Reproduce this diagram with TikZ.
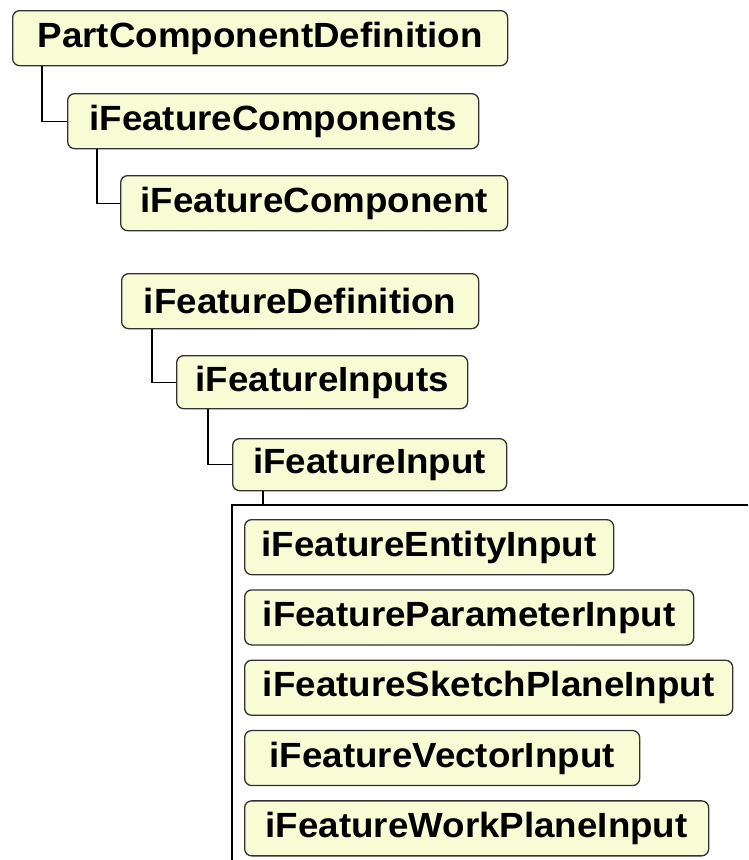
\documentclass[tikz,border=0pt]{standalone}
\usepackage{fontspec}
\setmainfont{Liberation Sans}
\newfontfamily\boxfont[FakeStretch=1.05]{Liberation Sans Bold}
\usepackage{tikz}
\usetikzlibrary{positioning,calc}
\definecolor{boxfill}{RGB}{248,252,212}
\definecolor{boxline}{RGB}{50,50,50}

\begin{document}
\begin{tikzpicture}[
  x=1pt,y=-1pt,
  box/.style={draw=boxline,fill=boxfill,line width=1.3pt,rounded corners=7pt,
    anchor=north west,minimum height=55pt,inner sep=0pt,
    font=\boxfont\fontsize{35}{40}\selectfont},
  link/.style={draw=black,line width=1.3pt}
]
\useasboundingbox (0,0) rectangle (748,860);
\node[box,minimum width=495pt] (pcd) at (12,10) {PartComponentDefinition};
\node[box,minimum width=411pt] (fcomps) at (67,93) {iFeatureComponents};
\node[box,minimum width=387pt] (fcomp) at (120,175) {iFeatureComponent};
\draw[link] ([xshift=30pt]pcd.south west) |- (fcomps.west);
\draw[link] ([xshift=30pt]fcomps.south west) |- (fcomp.west);

\node[box,minimum width=357pt] (fdef) at (121,273) {iFeatureDefinition};
\node[box,minimum width=291pt,minimum height=53pt] (finputs) at (176,355) {iFeatureInputs};
\node[box,minimum width=274pt,minimum height=52pt] (finput) at (232,438) {iFeatureInput};
\draw[link] ([xshift=31pt]fdef.south west) |- (finputs.west);
\draw[link] ([xshift=32pt]finputs.south west) |- (finput.west);

\coordinate (frame) at (232,505);
\draw[link] ([xshift=31pt]finput.south west) -- ([xshift=31pt]finput.south west |- frame);
\draw[link] (748,505) -- (frame) -- (232,860);

\node[box,minimum width=369pt] (entity) at (244,519) {iFeatureEntityInput};
\node[box,minimum width=449pt,below=14pt of entity.south west,anchor=north west] (param) {iFeatureParameterInput};
\node[box,minimum width=488pt,below=14pt of param.south west,anchor=north west] (sketch) {iFeatureSketchPlaneInput};
\node[box,minimum width=395pt,below=14pt of sketch.south west,anchor=north west] (vector) {iFeatureVectorInput};
\node[box,minimum width=464pt,below=14pt of vector.south west,anchor=north west] (wplane) {iFeatureWorkPlaneInput};
\end{tikzpicture}
\end{document}
